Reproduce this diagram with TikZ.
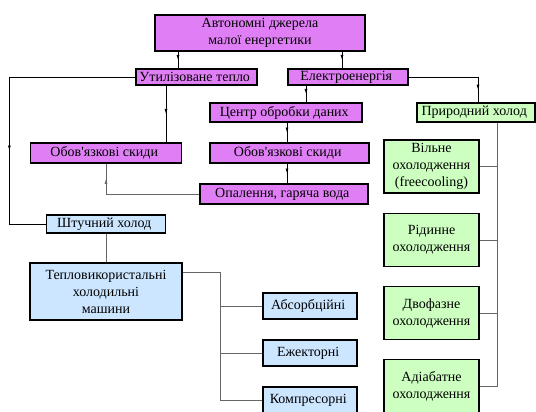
\documentclass[tikz,border=0pt]{standalone}
\usepackage{fontspec}
\setmainfont{Liberation Serif}[Ligatures=TeXOff]
\usetikzlibrary{arrows.meta,decorations.markings}

\definecolor{pviolet}{HTML}{E07FF5}
\definecolor{pgreen}{HTML}{CCFFC0}
\definecolor{pblue}{HTML}{CCE6FF}

\tikzset{
  box/.style={draw=black, line width=1.3pt, inner sep=0pt, align=center,
    font=\fontsize{14}{17}\selectfont},
  pbox/.style={box, fill=pviolet},
  gbox/.style={box, fill=pgreen, minimum width=95pt, minimum height=53pt},
  bbox/.style={box, fill=pblue},
  kind/.style={bbox, minimum width=94pt, minimum height=26pt},
  link/.style={line width=0.7pt},
  tree/.style={line width=0.7pt, draw=black!60},
  flow/.style={decoration={markings,
    mark=at position 0.5 with {\arrow{Latex[length=5pt,width=3pt]}}},
    postaction={decorate}}
}

\begin{document}
\begin{tikzpicture}[x=1pt, y=-1pt]
      \useasboundingbox (0,0) rectangle (536,412);
      \node (src) [pbox, minimum width=210pt, minimum height=36pt] at (260,33) {
         Автономні джерела\\ малої енергетики
      };
      \node (heat) [pbox, minimum width=121pt, minimum height=16pt] at (196.5,77) {
         Утилізоване тепло
      };
      \node (elec) [pbox, minimum width=120pt, minimum height=16pt] at (348,77) {
         Електроенергія
      };
      \node (dc) [pbox, minimum width=152pt, minimum height=19pt] at (286,112.5) {
         Центр обробки даних
      };
      \node (dumpL) [pbox, minimum width=151pt, minimum height=20pt] at (106,153) {
         Обов'язкові скиди
      };
      \node (dumpC) [pbox, minimum width=159pt, minimum height=20pt] at (289.5,153) {
         Обов'язкові скиди
      };
      \node (hot) [pbox, minimum width=168pt, minimum height=20pt] at (284,194) {
         Опалення, гаряча вода
      };
      \node (nat) [gbox, minimum width=118pt, minimum height=19pt] at (476,112.5) {
         Природний холод
      };
      \node (free) [gbox] at (431.5,166.5) {
         Вільне\\ охолодження\\ (freecooling)
      };
      \node (liq) [gbox] at (431.5,240) {
         Рідинне\\ охолодження
      };
      \node (two) [gbox] at (431.5,313) {
         Двофазне\\ охолодження
      };
      \node (adia) [gbox] at (431.5,386) {
         Адіабатне\\ охолодження
      };
      \node (art) [bbox, minimum width=119pt, minimum height=18pt] at (106,224) {
         Штучний холод
      };
      \node (tmach) [bbox, minimum width=152pt, minimum height=57pt] at (106,291.5) {
         Тепловикористальні\\ холодильні\\ машини
      };
      \node (abs) [kind] at (310,306) {
         Абсорбційні
      };
      \node (ej) [kind] at (310,353) {
         Ежекторні
      };
      \node (comp) [kind] at (310,400) {
         Компресорні
      };
      \draw[link, flow] ([xshift=-18.5pt]heat.north |- src.south) -- ([xshift=-18.5pt]heat.north);
      \draw[link, flow] ([xshift=-6pt]elec.north |- src.south) -- ([xshift=-6pt]elec.north);
      \draw[link, flow] ([xshift=-30.5pt]heat.south) -- ([xshift=-30.5pt]heat.south |- dumpL.north);
      \draw[link, flow] ([xshift=-42pt]elec.south) -- ([xshift=-42pt]elec.south |- dc.north);
      \draw[link, flow] ([xshift=1pt]dc.south) -- ([xshift=1pt]dc.south |- dumpC.north);
      \draw[link, flow] ([xshift=-2.5pt]dumpC.south) -- ([xshift=-2.5pt]dumpC.south |- hot.north);
      \coordinate (nk) at ([xshift=2pt]nat.north |- elec.east);
      \draw[link] (elec.east) -- (nk);
      \draw[link, flow] (nk) -- ([xshift=2pt]nat.north);
      \coordinate (hk1) at ([xshift=-126pt]heat.west);
      \coordinate (hk2) at (hk1 |- art.west);
      \draw[link] (heat.west) -- (hk1);
      \draw[link, flow] (hk1) -- (hk2);
      \draw[link] (hk2) -- (art.west);
      \coordinate (ok) at (hot.west -| dumpL.south);
      \draw[tree] (hot.west) -- (ok);
      \draw[tree, flow] (ok) -- (dumpL.south);
      \coordinate (nt) at ([xshift=21pt]nat.south);
      \draw[tree] (nt) |- (adia.east);
      \foreach \b in {free,liq,two}
         \draw[tree] (\b.east) -- (\b.east -| nt);
      \draw[tree] (art.south) -- (tmach.north);
      \coordinate (tk) at ([yshift=19.5pt]tmach.east);
      \coordinate (tj) at ([xshift=38pt]tk);
      \draw[tree] (tk) -- (tj) |- (comp.west);
      \foreach \b in {abs,ej}
         \draw[tree] (\b.west) -- (\b.west -| tj);
      \end{tikzpicture}
\end{document}
